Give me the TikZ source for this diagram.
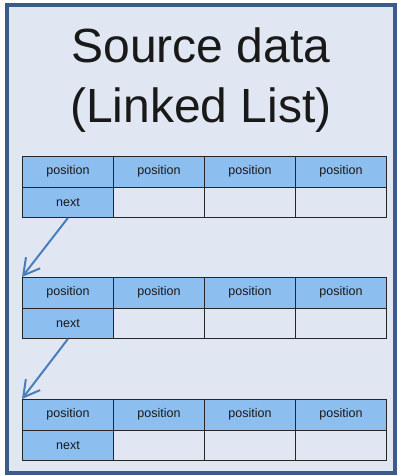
\documentclass[tikz,border=0pt]{standalone}
\usepackage{fontspec}
\setmainfont{Liberation Sans}
\usetikzlibrary{arrows.meta}
\definecolor{framec}{RGB}{59,92,139}
\definecolor{bgc}{RGB}{224,231,243}
\definecolor{cellblue}{RGB}{141,190,240}
\definecolor{arrowc}{RGB}{74,126,187}
\definecolor{textc}{RGB}{25,25,25}
\tikzset{
  frame/.style={draw=framec, line width=4pt, fill=bgc, minimum width=388pt, minimum height=468pt, inner sep=0pt},
  title/.style={font=\fontsize{48}{58}\selectfont, text=textc, anchor=base, inner sep=0pt},
  cell/.style={draw=black!85, line width=0.9pt, minimum width=91pt, minimum height=30.5pt, inner sep=0pt, anchor=north west, font=\fontsize{12.5}{15}\selectfont, text=textc},
  bluecell/.style={cell, fill=cellblue},
  emptycell/.style={cell, fill=bgc},
  link/.style={draw=arrowc, line width=2pt, -{Straight Barb[length=16pt,width=18pt]}}
}
\begin{document}
\begin{tikzpicture}[x=1pt,y=-1pt]
\useasboundingbox (0,0) rectangle (401,476);
\node[frame] (frame) at (201,239) {};
\node[title] (title1) at (201,63) {Source data};
\node[title] (title2) at (201,123) {(Linked List)};
\foreach \t/\y in {1/156,2/277,3/399}{
  \node[bluecell] (t\t p1) at (22,\y) {position};
  \node[bluecell] (t\t p2) at (113,\y) {position};
  \node[bluecell] (t\t p3) at (204,\y) {position};
  \node[bluecell] (t\t p4) at (295,\y) {position};
  \node[bluecell] (t\t n) at (22,\y+30.5) {next};
  \node[emptycell] (t\t e2) at (113,\y+30.5) {};
  \node[emptycell] (t\t e3) at (204,\y+30.5) {};
  \node[emptycell] (t\t e4) at (295,\y+30.5) {};
}
\draw[link] (t1n.south) -- (t2p1.north west);
\draw[link] (t2n.south) -- (t3p1.north west);
\end{tikzpicture}
\end{document}
